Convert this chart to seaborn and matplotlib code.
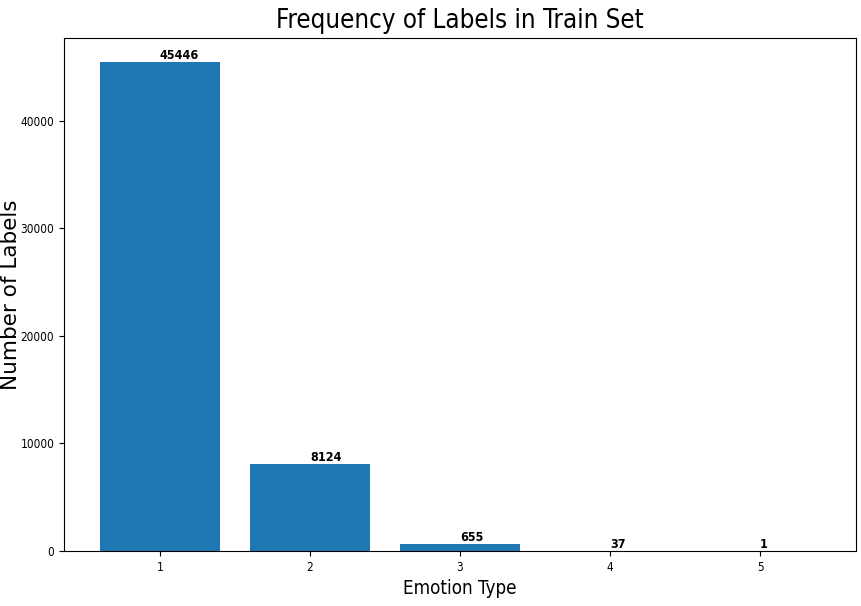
import matplotlib
matplotlib.use("Agg")
import matplotlib.pyplot as plt
import seaborn as sns
import pandas as pd

emotion_types = ["1", "2", "3", "4", "5"]
counts = [45446, 8124, 655, 37, 1]

df = pd.DataFrame({"Emotion Type": emotion_types, "Count": counts})

plt.rcParams["font.family"] = ["DejaVu Sans"]
plt.rcParams["font.stretch"] = "condensed"

fig = plt.figure(figsize=(8.61, 6.06), dpi=100)
ax = fig.add_axes([64/861, 1-551/606, (856-64)/861, (551-38)/606])
sns.barplot(data=df, x="Emotion Type", y="Count", color="#1f77b4", saturation=1,
            width=0.8, ax=ax, errorbar=None)
ax.set_xlim(-0.64, 4.64)
for i, c in enumerate(counts):
    ax.text(i, c, str(c), ha="left", va="bottom", fontweight="bold", fontsize=9)
ax.set_title("Frequency of Labels in Train Set", fontsize=18.5, pad=7)
ax.set_xlabel("Emotion Type", fontsize=13.5)
ax.set_ylabel("Number of Labels", fontsize=15.5, fontstretch="normal")
ax.yaxis.set_label_coords(-0.054, 0.5)
ax.tick_params(labelsize=8.5)
fig.savefig("out.png", dpi=100)
